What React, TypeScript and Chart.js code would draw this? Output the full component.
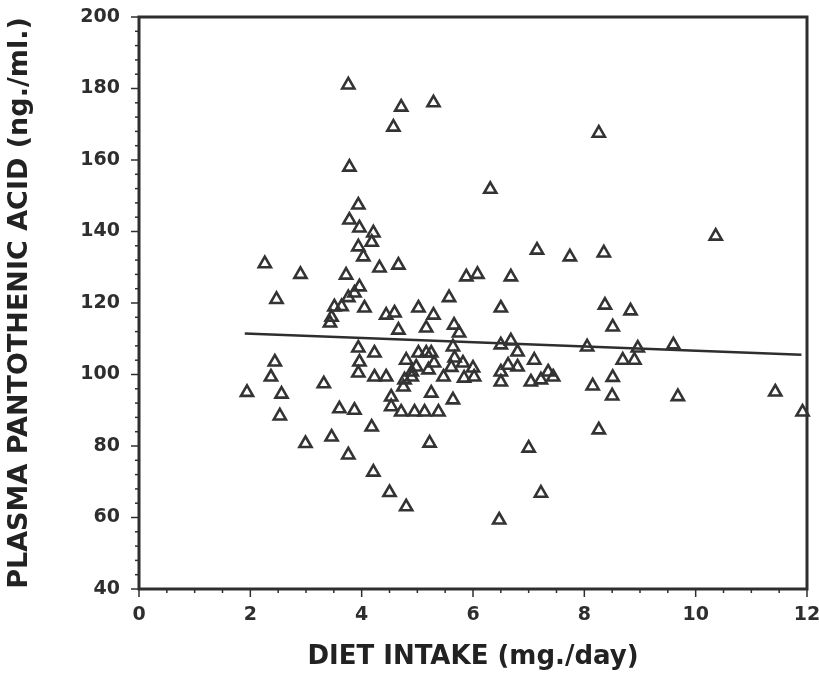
import React, { useEffect, useRef } from "react";
import { Chart, registerables } from "chart.js";
Chart.register(...registerables);

const xIntake = [
  1.94, 2.26, 2.47, 2.44, 2.37, 2.56, 2.53, 2.9, 2.99, 3.32, 3.46, 3.6, 3.87, 3.76,
  3.43, 3.46, 3.51, 3.64, 3.76, 3.72, 3.78, 3.78, 3.76, 3.94, 3.96, 4.21, 3.94, 4.18,
  4.03, 4.32, 4.66, 3.96, 3.87, 4.05, 4.44, 4.59, 4.66, 3.94, 4.23, 3.96, 3.94, 4.23,
  4.44, 4.18, 4.21, 4.5, 4.8, 4.57, 4.71, 5.29, 4.53, 4.53, 4.71, 4.95, 5.13, 5.38,
  5.25, 4.75, 4.8, 5.16, 5.25, 4.98, 5.2, 4.9, 5.47, 5.02, 5.3, 4.9, 4.77, 5.22,
  5.02, 5.29, 5.16, 5.66, 5.75, 5.57, 5.64, 5.67, 5.82, 6.0, 5.84, 6.02, 5.64, 5.88,
  6.08, 6.68, 6.31, 6.5, 6.47, 6.68, 6.5, 6.8, 6.63, 6.5, 6.8, 7.1, 6.5, 7.04,
  7.22, 7.35, 7.44, 7.0, 7.22, 7.15, 7.74, 8.35, 8.26, 10.36, 8.37, 8.83, 8.51, 8.05,
  8.96, 9.6, 8.69, 8.9, 8.15, 8.51, 8.5, 9.68, 11.43, 11.92, 8.26, 5.61
];
const yPlasma = [
  95, 131, 121, 103.5, 99.3, 94.5, 88.4, 128, 80.7, 97.4, 82.5, 90.4, 90, 77.5,
  114.4, 116, 118.9, 119, 121.5, 127.8, 143.2, 158, 181, 147.4, 141, 139.6, 135.7, 137,
  132.9, 129.8, 130.6, 124.5, 122.8, 118.6, 116.6, 117.2, 112.4, 107.4, 106, 103.5, 100.4, 99.3,
  99.3, 85.3, 72.7, 67, 63, 169.2, 174.8, 176, 93.7, 91, 89.5, 89.5, 89.5, 89.5,
  94.8, 96.5, 104, 106, 106, 102.1, 101.3, 99.3, 99.3, 106, 103.2, 100.7, 98.5, 80.8,
  118.6, 116.6, 113, 113.8, 111.6, 121.5, 107.7, 104.6, 103.2, 101.8, 99, 99.3, 92.9, 127.3,
  128, 127.3, 151.8, 118.6, 59.3, 109.4, 108.3, 106.3, 102.6, 100.7, 102.1, 104, 97.9, 97.9,
  98.5, 100.7, 99.3, 79.4, 66.8, 134.8, 132.9, 134, 167.5, 138.7, 119.4, 117.8, 113.3, 107.7,
  107.4, 108.3, 104, 104, 96.8, 99.2, 94, 93.8, 95.1, 89.5, 84.5, 102
];
const fitX = [1.9, 11.9];
const fitY = [111.5, 105.5];
const xTickValues = [0, 2, 4, 6, 8, 10, 12];
const yTickValues = [40, 60, 80, 100, 120, 140, 160, 180, 200];
const xMinorStep = 0.5;
const yMinorStep = 4;

const INK = "#2e2e2e";

const framePlugin = {
  id: "frame",
  beforeDatasetsDraw(chart: any) {
    const { ctx, chartArea: a, scales } = chart;
    ctx.save();
    ctx.strokeStyle = INK;
    ctx.lineWidth = 3;
    ctx.strokeRect(a.left, a.top, a.right - a.left, a.bottom - a.top);
    ctx.lineWidth = 1.5;
    const xs = scales.x;
    const ys = scales.y;
    for (let v = 0; v <= 12.0001; v += xMinorStep) {
      const px = xs.getPixelForValue(v);
      const major = Math.abs(v / 2 - Math.round(v / 2)) < 1e-6;
      ctx.beginPath();
      ctx.moveTo(px, a.bottom);
      ctx.lineTo(px, a.bottom + (major ? 8 : 4));
      ctx.stroke();
    }
    for (let v = 40; v <= 200.0001; v += yMinorStep) {
      const py = ys.getPixelForValue(v);
      const major = (v - 40) % 20 === 0;
      ctx.beginPath();
      ctx.moveTo(a.left, py);
      ctx.lineTo(a.left - (major ? 8 : 4), py);
      ctx.stroke();
    }
    ctx.restore();
  },
};

const zeroPad = (s: any) => {
  s.paddingTop = 0;
  s.paddingBottom = 0;
  s.paddingLeft = 0;
  s.paddingRight = 0;
};

export default function App() {
  const ref = useRef<HTMLCanvasElement>(null);
  useEffect(() => {
    if (!ref.current) return;
    const pts = xIntake.map((x, i) => ({ x, y: yPlasma[i] }));
    const fit = fitX.map((x, i) => ({ x, y: fitY[i] }));
    const tickFont = { family: "'DejaVu Sans', sans-serif", size: 19, weight: "bold" as const };
    const chart = new Chart(ref.current, {
      type: "scatter",
      data: {
        datasets: [
          {
            label: "data",
            data: pts,
            pointStyle: "triangle",
            pointRadius: 7,
            pointBorderWidth: 2.6,
            borderColor: "#333",
            backgroundColor: "rgba(255,255,255,0)",
            clip: false as any,
          },
          {
            type: "line" as any,
            label: "fit",
            data: fit,
            borderColor: INK,
            borderWidth: 2.5,
            pointRadius: 0,
            fill: false,
          },
        ],
      },
      options: {
        animation: false,
        responsive: false,
        maintainAspectRatio: false,
        layout: { padding: { top: 17, right: 12, left: 0, bottom: 0 } },
        plugins: { legend: { display: false }, tooltip: { enabled: false } },
        scales: {
          x: {
            type: "linear",
            min: 0,
            max: 12,
            afterFit: (s: any) => { s.height = 88; zeroPad(s); },
            afterBuildTicks: (s: any) => { s.ticks = xTickValues.map((v) => ({ value: v })); },
            grid: { display: false, drawOnChartArea: false, drawTicks: false },
            border: { display: false },
            ticks: { color: INK, font: tickFont, padding: 15, maxRotation: 0 },
            title: {
              display: true,
              text: "DIET INTAKE (mg./day)",
              color: "#222",
              font: { family: "'DejaVu Sans', sans-serif", size: 26, weight: "bold" as const },
              padding: { top: 2 },
            },
          },
          y: {
            type: "linear",
            min: 40,
            max: 200,
            afterFit: (s: any) => { s.width = 139; zeroPad(s); },
            afterBuildTicks: (s: any) => { s.ticks = yTickValues.map((v) => ({ value: v })); },
            grid: { display: false, drawOnChartArea: false, drawTicks: false },
            border: { display: false },
            ticks: { color: INK, font: tickFont, padding: 19 },
            title: {
              display: true,
              text: "PLASMA PANTOTHENIC ACID (ng./ml.)",
              color: "#222",
              font: { family: "'DejaVu Sans', sans-serif", size: 27, weight: "bold" as const },
              padding: { bottom: 0, top: 4 },
            },
          },
        },
      },
      plugins: [framePlugin],
    });
    return () => chart.destroy();
  }, []);
  return (
    <div style={{ position: "fixed", left: 0, top: 0, width: 819, height: 677, background: "#fff" }}>
      <canvas ref={ref} width={819} height={677} style={{ display: "block" }} />
    </div>
  );
}
